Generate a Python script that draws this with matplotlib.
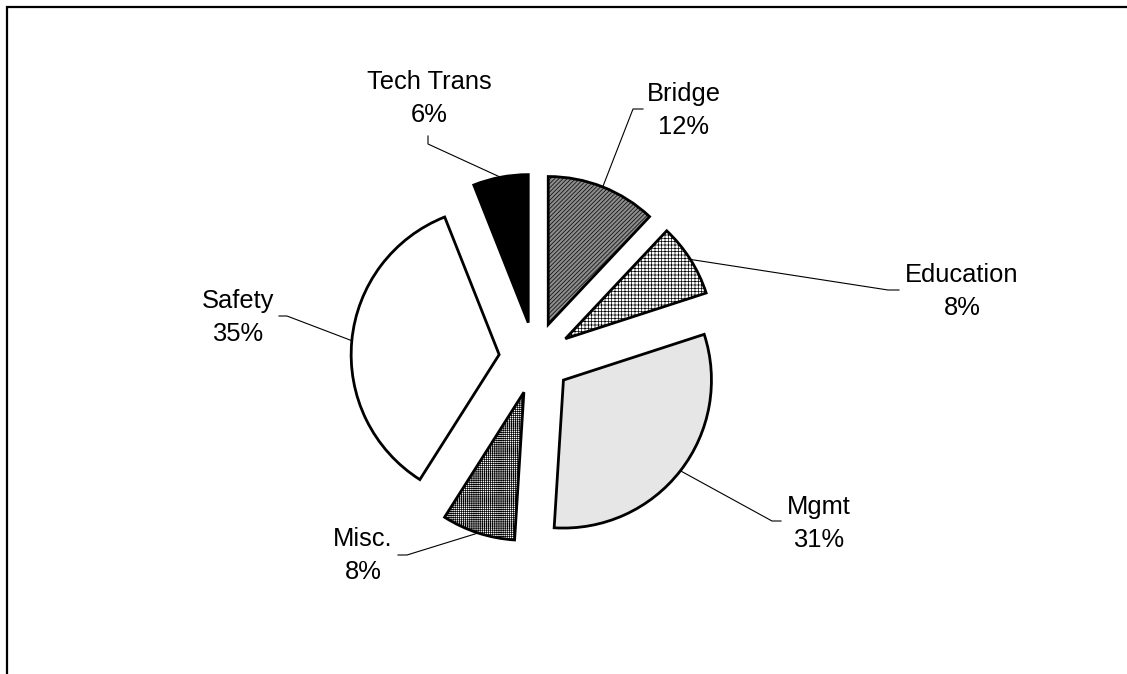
import numpy as np
import matplotlib
matplotlib.use("Agg")
import matplotlib.pyplot as plt

# data, clockwise from 12 o'clock
categories = ["Bridge", "Education", "Mgmt", "Misc.", "Safety", "Tech Trans"]
shares = [12, 8, 31, 8, 35, 6]

# styles for each slice
face_colors = ["#8c8c8c", "white", "#e6e6e6", "white", "white", "black"]
hatches = ["////////", "+++++", None, "++++++++", None, None]

# label layout in pixels measured from top-left: text centre x, last baseline y
label_xy = [(684, 134), (962, 315), (819, 547), (363, 579), (238, 341), (429, 122)]
# leader line elbow and end point, pixels from top-left
leader_elbow = [(633, 109), (888, 290), (772, 521), (407, 555), (287, 316), (428, 144)]
leader_end = [(643, 109), (899, 290), (781, 521), (398, 555), (279, 316), (428, 136)]

W, H = 1127, 674
plt.rcParams["hatch.linewidth"] = 0.5
plt.rcParams["font.family"] = ["Liberation Sans", "DejaVu Sans"]


def flip(pt):
    """convert a top-left pixel point to axes data coordinates"""
    return pt[0], H - pt[1]


fig = plt.figure(figsize=(W / 100, H / 100), dpi=100)
ax = fig.add_axes([0, 0, 1, 1])

wedges, _ = ax.pie(shares, startangle=90, counterclock=False, radius=148,
                   center=flip((535, 358)), explode=[36] * len(shares),
                   wedgeprops=dict(edgecolor="black", linewidth=2.0))
for w, fc, h in zip(wedges, face_colors, hatches):
    w.set_facecolor(fc)
    if h:
        w.set_hatch(h)

for w, name, val, txy, el, en in zip(wedges, categories, shares, label_xy,
                                     leader_elbow, leader_end):
    tm = np.deg2rad(0.5 * (w.theta1 + w.theta2))
    sx = w.center[0] + w.r * np.cos(tm)
    sy = w.center[1] + w.r * np.sin(tm)
    ex, ey = flip(el)
    nx, ny = flip(en)
    ax.plot([sx, ex, nx], [sy, ey, ny], color="black", lw=0.8)
    x, y = flip(txy)
    ax.text(x, y, f"{name}\n{val}%", ha="center", va="baseline",
            fontsize=18.4, linespacing=1.45)

# chart frame (right and bottom edges fall outside the image)
ax.plot([7, 7, W + 10], [-10, H - 7, H - 7], color="black", lw=1.6,
        solid_joinstyle="miter")

ax.set_xlim(0, W)
ax.set_ylim(0, H)
ax.set_aspect("auto")
ax.axis("off")

fig.savefig("out.png", dpi=100)
